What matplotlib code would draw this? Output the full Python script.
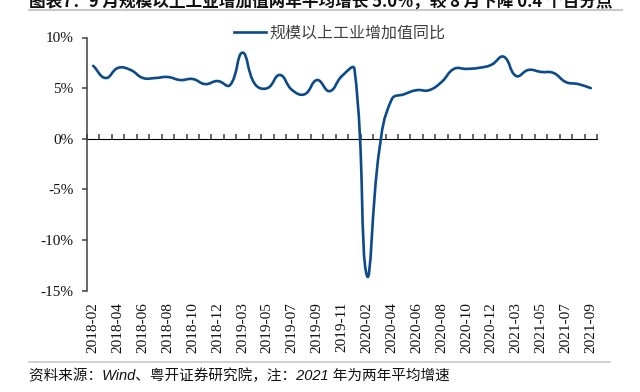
import numpy as np
import matplotlib
matplotlib.use('Agg')
from matplotlib import pyplot as plt
from matplotlib.path import Path
from matplotlib.patches import PathPatch
from matplotlib.lines import Line2D

# months (Jan merged into Feb each year)
months = (['2018-%02d' % m for m in range(2, 13)]
          + ['2019-%02d' % m for m in range(2, 13)]
          + ['2020-%02d' % m for m in range(2, 13)]
          + ['2021-%02d' % m for m in range(2, 10)])
# industrial value added, yoy %, 2021 is two-year average
values = [7.2, 6.0, 7.0, 6.8, 6.0, 6.0, 6.1, 5.8, 5.9, 5.4, 5.7,
          5.3, 8.5, 5.4, 5.0, 6.3, 4.8, 4.4, 5.8, 4.7, 6.2, 6.9,
          -13.5, -1.1, 3.9, 4.4, 4.8, 4.8, 5.6, 6.9, 6.9, 7.0, 7.3,
          8.1, 6.2, 6.8, 6.6, 6.5, 5.6, 5.4, 5.0]
yticks = [10, 5, 0, -5, -10, -15]
series_name = '规模以上工业增加值同比'
title = '图表7：9 月规模以上工业增加值两年平均增长 5.0%，较 8 月下降 0.4 个百分点'
note = '资料来源：Wind、粤开证券研究院，注：2021 年为两年平均增速'

blue = '#0b4a8b'
dark = '#404040'
cjk = ['Noto Sans CJK SC', 'DejaVu Sans']


def smooth_path(x, y, sx=1.0, sy=1.0, t=0.45):
    # bezier smoothing like excel's "smoothed line"; tangents are scaled
    # by the neighbouring segment lengths (measured in screen units sx, sy)
    x = np.asarray(x, float)
    y = np.asarray(y, float)
    n = len(x)
    before = [None] * n
    after = [None] * n
    for i in range(n):
        i0, i2 = max(i - 1, 0), min(i + 1, n - 1)
        d01 = np.hypot((x[i] - x[i0]) * sx, (y[i] - y[i0]) * sy)
        d12 = np.hypot((x[i2] - x[i]) * sx, (y[i2] - y[i]) * sy)
        tot = d01 + d12 if d01 + d12 > 0 else 1.0
        fa, fb = t * d01 / tot, t * d12 / tot
        dx, dy = x[i2] - x[i0], y[i2] - y[i0]
        before[i] = (x[i] - fa * dx, y[i] - fa * dy)
        after[i] = (x[i] + fb * dx, y[i] + fb * dy)
    verts = [(x[0], y[0])]
    codes = [Path.MOVETO]
    for i in range(1, n):
        verts += [after[i - 1], before[i], (x[i], y[i])]
        codes += [Path.CURVE4] * 3
    return Path(verts, codes)


fig = plt.figure(figsize=(6.4, 3.92), dpi=100)
ax = fig.add_axes([87 / 640, 1 - 290.7 / 392, 510 / 640, 253.2 / 392])

n = len(months)
xs = np.arange(n)
ax.add_patch(PathPatch(smooth_path(xs, values, sx=510 / n, sy=253.2 / 25),
                       facecolor='none', edgecolor=blue, lw=1.9,
                       capstyle='round', joinstyle='round'))
ax.set_xlim(-0.5, n - 0.5)
ax.set_ylim(-15, 10)

# y axis
ax.set_yticks(yticks)
ax.set_yticklabels(['%d%%' % v for v in yticks])
for s in ['top', 'right', 'bottom']:
    ax.spines[s].set_visible(False)
ax.spines['left'].set_color(dark)
ax.spines['left'].set_linewidth(1.1)
ax.tick_params(axis='y', direction='out', length=3.5, width=1.1, color=dark,
               pad=6, labelsize=11, labelcolor='#111111')

# category labels at bottom, every second month
ax.set_xticks(xs[::2])
ax.set_xticklabels(months[::2], rotation=90, va='top', ha='center')
ax.tick_params(axis='x', length=0, pad=8, labelsize=11, labelcolor='#111111')
for lab in ax.get_xticklabels() + ax.get_yticklabels():
    lab.set_family('Liberation Serif')

# zero line with category boundary ticks
sec = ax.secondary_xaxis(15 / 25)
sec.set_xticks(np.arange(-0.5, n, 1.0))
sec.set_xticklabels([])
sec.spines['bottom'].set_color(dark)
sec.spines['bottom'].set_linewidth(1.1)
sec.tick_params(axis='x', direction='out', length=3.5, width=1.1, color=dark)

# legend
handle = Line2D([], [], color=blue, lw=1.9)
leg = fig.legend([handle], [series_name], loc='center left',
                 bbox_to_anchor=(234 / 640, 1 - 32.7 / 392), frameon=False,
                 handlelength=2.0, handletextpad=0.2, borderpad=0, borderaxespad=0,
                 prop={'family': cjk, 'size': 11.5})
for t in leg.get_texts():
    t.set_color('#404040')

# cropped header and footer
fig.text(29 / 640, 1 - 6.5 / 392, title, ha='left', va='baseline',
         family=cjk, weight='bold', fontsize=12.0, color='#111111')
fig.add_artist(Line2D([29 / 640, 622 / 640], [1 - 9.5 / 392] * 2,
                      color='#c8c8c8', lw=1.5, transform=fig.transFigure))
fig.add_artist(Line2D([29 / 640, 610 / 640], [1 - 362 / 392] * 2,
                      color='#c8c8c8', lw=1.2, transform=fig.transFigure))
fig.text(29 / 640, 1 - 376 / 392, note, ha='left', va='center',
         family=['Liberation Sans', 'Noto Sans CJK SC'], style='italic',
         fontsize=10.5, color='#111111')

fig.savefig('out.png', dpi=100)
